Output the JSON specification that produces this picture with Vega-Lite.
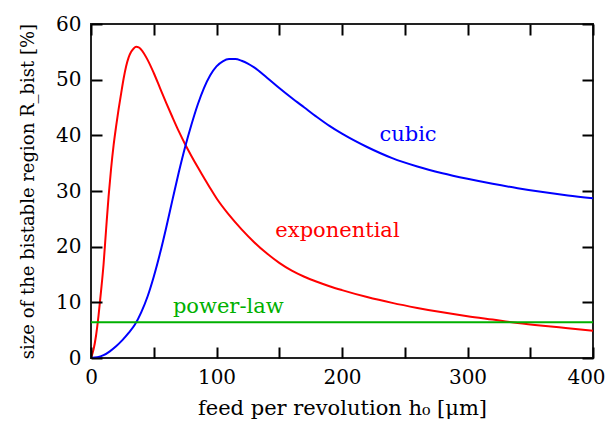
{
  "$schema": "https://vega.github.io/schema/vega-lite/v6.json",
  "width": 502,
  "height": 334,
  "autosize": {"type": "none"},
  "padding": {"left": 91, "top": 24, "right": 16, "bottom": 72},
  "background": "white",
  "config": {
    "view": {"stroke": "#222222", "strokeWidth": 2},
    "axis": {
      "labelFont": "DejaVu Serif",
      "labelFontSize": 20,
      "labelColor": "#000000",
      "titleFont": "DejaVu Serif",
      "titleFontSize": 21,
      "titleFontWeight": "normal",
      "titleColor": "#000000",
      "domain": false,
      "grid": false,
      "labelFlush": false,
      "labelOverlap": false
    }
  },
  "datasets": {
    "curves": [
      {"series": "exponential", "h0": 0, "R": 0},
      {"series": "exponential", "h0": 2, "R": 1.5},
      {"series": "exponential", "h0": 4, "R": 4.0},
      {"series": "exponential", "h0": 6, "R": 7.6},
      {"series": "exponential", "h0": 8, "R": 12.0},
      {"series": "exponential", "h0": 10, "R": 16.8},
      {"series": "exponential", "h0": 12, "R": 23.0},
      {"series": "exponential", "h0": 14, "R": 29.0},
      {"series": "exponential", "h0": 16, "R": 34.0},
      {"series": "exponential", "h0": 18, "R": 38.2},
      {"series": "exponential", "h0": 20, "R": 41.6},
      {"series": "exponential", "h0": 22, "R": 44.7},
      {"series": "exponential", "h0": 24, "R": 47.5},
      {"series": "exponential", "h0": 26, "R": 50.2},
      {"series": "exponential", "h0": 28, "R": 52.4},
      {"series": "exponential", "h0": 30, "R": 54.0},
      {"series": "exponential", "h0": 32, "R": 55.0},
      {"series": "exponential", "h0": 34, "R": 55.6},
      {"series": "exponential", "h0": 36, "R": 55.9},
      {"series": "exponential", "h0": 38, "R": 55.8},
      {"series": "exponential", "h0": 40, "R": 55.4},
      {"series": "exponential", "h0": 45, "R": 53.6},
      {"series": "exponential", "h0": 50, "R": 51.2},
      {"series": "exponential", "h0": 55, "R": 48.5},
      {"series": "exponential", "h0": 60, "R": 45.8},
      {"series": "exponential", "h0": 65, "R": 43.2},
      {"series": "exponential", "h0": 70, "R": 40.7},
      {"series": "exponential", "h0": 75, "R": 38.4},
      {"series": "exponential", "h0": 80, "R": 36.3},
      {"series": "exponential", "h0": 85, "R": 34.3},
      {"series": "exponential", "h0": 90, "R": 32.4},
      {"series": "exponential", "h0": 95, "R": 30.5},
      {"series": "exponential", "h0": 100, "R": 28.7},
      {"series": "exponential", "h0": 110, "R": 25.7},
      {"series": "exponential", "h0": 120, "R": 23.1},
      {"series": "exponential", "h0": 130, "R": 20.8},
      {"series": "exponential", "h0": 140, "R": 18.8},
      {"series": "exponential", "h0": 150, "R": 17.1},
      {"series": "exponential", "h0": 160, "R": 15.7},
      {"series": "exponential", "h0": 170, "R": 14.6},
      {"series": "exponential", "h0": 180, "R": 13.7},
      {"series": "exponential", "h0": 190, "R": 12.9},
      {"series": "exponential", "h0": 200, "R": 12.2},
      {"series": "exponential", "h0": 220, "R": 10.95},
      {"series": "exponential", "h0": 240, "R": 9.9},
      {"series": "exponential", "h0": 260, "R": 9.0},
      {"series": "exponential", "h0": 280, "R": 8.2},
      {"series": "exponential", "h0": 300, "R": 7.5},
      {"series": "exponential", "h0": 320, "R": 6.9},
      {"series": "exponential", "h0": 340, "R": 6.3},
      {"series": "exponential", "h0": 360, "R": 5.8},
      {"series": "exponential", "h0": 380, "R": 5.35},
      {"series": "exponential", "h0": 400, "R": 4.9},
      {"series": "cubic", "h0": 0, "R": 0},
      {"series": "cubic", "h0": 5, "R": 0.12},
      {"series": "cubic", "h0": 10, "R": 0.5},
      {"series": "cubic", "h0": 15, "R": 1.2},
      {"series": "cubic", "h0": 20, "R": 2.1},
      {"series": "cubic", "h0": 25, "R": 3.2},
      {"series": "cubic", "h0": 30, "R": 4.5},
      {"series": "cubic", "h0": 35, "R": 6.0},
      {"series": "cubic", "h0": 40, "R": 8.2},
      {"series": "cubic", "h0": 45, "R": 11.0},
      {"series": "cubic", "h0": 50, "R": 14.6},
      {"series": "cubic", "h0": 55, "R": 18.8},
      {"series": "cubic", "h0": 60, "R": 23.5},
      {"series": "cubic", "h0": 65, "R": 28.5},
      {"series": "cubic", "h0": 70, "R": 33.4},
      {"series": "cubic", "h0": 75, "R": 37.9},
      {"series": "cubic", "h0": 80, "R": 41.9},
      {"series": "cubic", "h0": 85, "R": 45.5},
      {"series": "cubic", "h0": 90, "R": 48.5},
      {"series": "cubic", "h0": 95, "R": 50.8},
      {"series": "cubic", "h0": 100, "R": 52.4},
      {"series": "cubic", "h0": 105, "R": 53.3},
      {"series": "cubic", "h0": 110, "R": 53.7},
      {"series": "cubic", "h0": 115, "R": 53.7},
      {"series": "cubic", "h0": 120, "R": 53.4},
      {"series": "cubic", "h0": 125, "R": 52.9},
      {"series": "cubic", "h0": 130, "R": 52.2},
      {"series": "cubic", "h0": 140, "R": 50.4},
      {"series": "cubic", "h0": 150, "R": 48.5},
      {"series": "cubic", "h0": 160, "R": 46.7},
      {"series": "cubic", "h0": 170, "R": 45.0},
      {"series": "cubic", "h0": 180, "R": 43.3},
      {"series": "cubic", "h0": 190, "R": 41.7},
      {"series": "cubic", "h0": 200, "R": 40.3},
      {"series": "cubic", "h0": 220, "R": 37.9},
      {"series": "cubic", "h0": 240, "R": 35.9},
      {"series": "cubic", "h0": 260, "R": 34.4},
      {"series": "cubic", "h0": 280, "R": 33.2},
      {"series": "cubic", "h0": 300, "R": 32.2},
      {"series": "cubic", "h0": 320, "R": 31.3},
      {"series": "cubic", "h0": 340, "R": 30.5},
      {"series": "cubic", "h0": 360, "R": 29.8},
      {"series": "cubic", "h0": 380, "R": 29.2},
      {"series": "cubic", "h0": 400, "R": 28.7},
      {"series": "power-law", "h0": 0, "R": 6.4},
      {"series": "power-law", "h0": 400, "R": 6.4}
    ],
    "labels": [
      {"series": "cubic", "h0": 252.6, "R": 39.0},
      {"series": "exponential", "h0": 196.4, "R": 21.8},
      {"series": "power-law", "h0": 109.4, "R": 8.0}
    ]
  },
  "layer": [
    {
      "data": {"name": "curves"},
      "mark": {"type": "line", "strokeWidth": 2, "interpolate": "monotone", "clip": true},
      "encoding": {
        "x": {
          "field": "h0", "type": "quantitative",
          "scale": {"domain": [0, 400], "nice": false},
          "axis": {
            "orient": "bottom",
            "values": [0, 50, 100, 150, 200, 250, 300, 350, 400],
            "labelExpr": "datum.value % 100 == 0 ? datum.label : ''",
            "labelPadding": 20,
            "labelOffset": {"condition": {"test": "datum.value === 400", "value": -7}, "value": 0},
            "ticks": true,
            "tickSize": -11,
            "tickColor": "black",
            "tickOpacity": 1,
            "tickWidth": 2,
            "zindex": 1,
            "title": "feed per revolution h₀ [μm]",
            "titlePadding": 10
          }
        },
        "y": {
          "field": "R", "type": "quantitative",
          "scale": {"domain": [0, 60], "nice": false},
          "axis": {
            "orient": "left",
            "values": [0, 10, 20, 30, 40, 50, 60],
            "labelPadding": 21,
            "ticks": true,
            "tickSize": -11,
            "tickColor": "black",
            "tickOpacity": 1,
            "tickWidth": 2,
            "zindex": 1,
            "title": "size of the bistable region R_bist [%]",
            "titleFontSize": 18,
            "titlePadding": 18
          }
        },
        "color": {
          "field": "series", "type": "nominal",
          "scale": {"domain": ["exponential", "cubic", "power-law"], "range": ["#ff0000", "#0000ff", "#00b000"]},
          "legend": null
        },
        "detail": {"field": "series"}
      }
    },
    {
      "data": {"name": "labels"},
      "mark": {"type": "text", "font": "DejaVu Serif", "fontSize": 21, "align": "center", "baseline": "alphabetic"},
      "encoding": {
        "x": {
          "field": "h0", "type": "quantitative",
          "scale": {"domain": [0, 400], "nice": false},
          "axis": {"orient": "top", "values": [0, 50, 100, 150, 200, 250, 300, 350, 400], "labels": false, "title": null, "ticks": true, "tickSize": -11, "tickColor": "black", "tickOpacity": 1, "tickWidth": 2, "zindex": 1}
        },
        "y": {
          "field": "R", "type": "quantitative",
          "scale": {"domain": [0, 60], "nice": false},
          "axis": {"orient": "right", "values": [0, 10, 20, 30, 40, 50, 60], "labels": false, "title": null, "ticks": true, "tickSize": -11, "tickColor": "black", "tickOpacity": 1, "tickWidth": 2, "zindex": 1}
        },
        "text": {"field": "series"},
        "color": {"field": "series", "type": "nominal", "legend": null}
      }
    }
  ],
  "resolve": {"axis": {"x": "independent", "y": "independent"}}
}
